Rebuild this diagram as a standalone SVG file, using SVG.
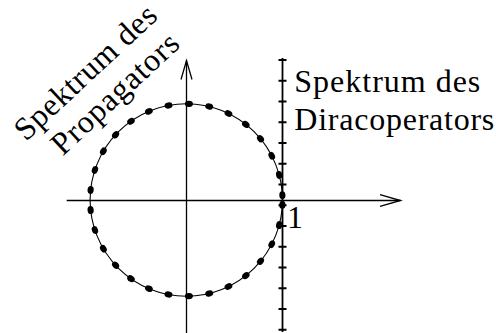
<svg xmlns="http://www.w3.org/2000/svg" xmlns:xlink="http://www.w3.org/1999/xlink" width="496" height="333" viewBox="0 0 496 333">
<style>
.ax{fill:none;stroke:#000;stroke-width:1.3}
.circ{fill:none;stroke:#000;stroke-width:1.1}
.tk{fill:none;stroke:#000;stroke-width:1.8}
.lbl{font-family:"Liberation Serif","Times New Roman",serif;font-size:32px;fill:#000}
</style>
<defs>
<ellipse id="d" cx="0" cy="0" rx="4" ry="3.1" fill="#000"/>
</defs>
<rect width="496" height="333" fill="#fff"/>
<g id="connectors">
<line class="ax" x1="66.7" y1="200.5" x2="400.5" y2="200.5"/>
<polyline class="ax" points="380,194.7 400.5,200.5 380,206.3"/>
<line class="ax" x1="186.5" y1="333" x2="186.5" y2="60.5"/>
<polyline class="ax" points="181,79.5 186.5,60.5 192,79.5"/>
</g>
<g id="circle">
<circle class="circ" cx="186.3" cy="200" r="96.2"/>
</g>
<g id="dirac-axis">
<line class="tk" x1="282.5" y1="58" x2="282.5" y2="332"/>
<path class="tk" d="M278.5,60h8M278.5,80.75h8M278.5,101.5h8M278.5,122.25h8M278.5,143h8M278.5,163.75h8M278.5,184.5h8M278.5,205.25h8M278.5,226h8M278.5,246.75h8M278.5,267.5h8M278.5,288.25h8M278.5,309h8M278.5,329.75h8"/>
</g>
<g id="dots">
<use xlink:href="#d" transform="translate(282.38,195.13) rotate(87.1)"/>
<use xlink:href="#d" transform="translate(279.17,174.91) rotate(74.88)"/>
<use xlink:href="#d" transform="translate(271.75,155.82) rotate(62.66)"/>
<use xlink:href="#d" transform="translate(260.48,138.74) rotate(50.44)"/>
<use xlink:href="#d" transform="translate(245.82,124.43) rotate(38.22)"/>
<use xlink:href="#d" transform="translate(228.47,113.54) rotate(26)"/>
<use xlink:href="#d" transform="translate(209.21,106.57) rotate(13.78)"/>
<use xlink:href="#d" transform="translate(188.92,103.84) rotate(1.56)"/>
<use xlink:href="#d" transform="translate(168.51,105.46) rotate(-10.66)"/>
<use xlink:href="#d" transform="translate(148.89,111.37) rotate(-22.88)"/>
<use xlink:href="#d" transform="translate(130.98,121.29) rotate(-35.1)"/>
<use xlink:href="#d" transform="translate(115.58,134.79) rotate(-47.32)"/>
<use xlink:href="#d" transform="translate(103.37,151.24) rotate(-59.54)"/>
<use xlink:href="#d" transform="translate(94.93,169.89) rotate(-71.76)"/>
<use xlink:href="#d" transform="translate(90.63,189.91) rotate(-83.98)"/>
<use xlink:href="#d" transform="translate(282.38,204.87) rotate(92.9)"/>
<use xlink:href="#d" transform="translate(279.17,225.09) rotate(105.12)"/>
<use xlink:href="#d" transform="translate(271.75,244.18) rotate(117.34)"/>
<use xlink:href="#d" transform="translate(260.48,261.26) rotate(129.56)"/>
<use xlink:href="#d" transform="translate(245.82,275.57) rotate(141.78)"/>
<use xlink:href="#d" transform="translate(228.47,286.46) rotate(154)"/>
<use xlink:href="#d" transform="translate(209.21,293.43) rotate(166.22)"/>
<use xlink:href="#d" transform="translate(188.92,296.16) rotate(178.44)"/>
<use xlink:href="#d" transform="translate(168.51,294.54) rotate(190.66)"/>
<use xlink:href="#d" transform="translate(148.89,288.63) rotate(202.88)"/>
<use xlink:href="#d" transform="translate(130.98,278.71) rotate(215.1)"/>
<use xlink:href="#d" transform="translate(115.58,265.21) rotate(227.32)"/>
<use xlink:href="#d" transform="translate(103.37,248.76) rotate(239.54)"/>
<use xlink:href="#d" transform="translate(94.93,230.11) rotate(251.76)"/>
<use xlink:href="#d" transform="translate(90.63,210.09) rotate(263.98)"/>
</g>
<g id="label-propagator">
<text class="lbl" transform="translate(25.9,141.9) rotate(-43)" textLength="182" lengthAdjust="spacing">Spektrum des</text>
<text class="lbl" transform="translate(62.8,156.5) rotate(-43)" textLength="162" lengthAdjust="spacing">Propagators</text>
</g>
<g id="label-dirac">
<text class="lbl" x="294.3" y="92" textLength="186" lengthAdjust="spacing">Spektrum des</text>
<text class="lbl" x="294.3" y="129.5" textLength="200" lengthAdjust="spacing">Diracoperators</text>
</g>
<g id="label-one">
<text class="lbl" x="287" y="228.3">1</text>
</g>
</svg>
